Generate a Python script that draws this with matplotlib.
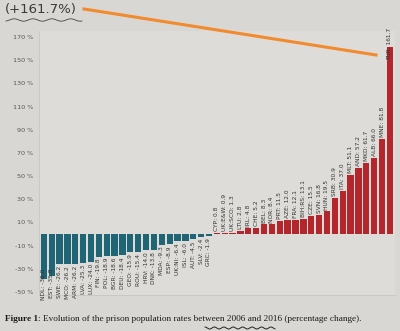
import matplotlib
matplotlib.use("Agg")
import matplotlib.pyplot as plt
import numpy as np

codes = ["NDL", "EST", "SWE", "MCO", "ARM", "LVA", "LUX", "FIN", "POL", "BGR", "DEU",
         "GEO", "ROU", "HRV", "DNK", "MDA", "ESP", "UK:NI", "ISL", "AUT", "SLV", "GRC",
         "CYP", "UK:E&W", "UK:SCO", "LTU", "IRL", "CHE", "BEL", "NOR", "PRT", "AZE", "FRA",
         "BIH:RS", "CZE", "SVN", "HUN", "SRB", "ITA", "MLT", "AND", "MKD", "ALB", "MNE", "TUR"]
values = [-39.0, -35.8, -26.2, -26.2, -26.2, -25.3, -24.0, -19.8, -18.9, -18.6, -18.4,
          -15.9, -15.4, -14.0, -13.8, -9.3, -8.9, -6.4, -6.0, -4.5, -2.4, -1.9,
          0.8, 0.9, 1.3, 2.8, 4.8, 5.2, 8.3, 8.4, 11.5, 12.0, 12.1,
          13.1, 15.5, 16.8, 19.5, 30.9, 37.0, 51.1, 57.2, 61.7, 66.0, 81.8, 161.7]
yticks = [170, 150, 130, 110, 90, 70, 50, 30, 10, -10, -30, -50]

W, H = 400, 331
fig = plt.figure(figsize=(W / 100, H / 100), dpi=100)
fig.patch.set_facecolor("#d9d7d3")

k = (292 - 37) / 220.0
top_px = 37 - 5 * k
bot_px = 292 + 3 * k
ax = fig.add_axes([39.1 / W, 1 - bot_px / H, 355.5 / W, (bot_px - top_px) / H])
ax.set_facecolor("#dedcd8")
x = np.arange(len(values))
colors = ["#1f6575" if v < 0 else "#b3272c" for v in values]
ax.bar(x, values, width=0.8, color=colors, zorder=2)
ax.set_xlim(-0.6, len(values) - 0.4)
ax.set_ylim(-53, 175)
ax.set_yticks(yticks)
ax.set_yticklabels([f"{t} %" for t in yticks], fontsize=4.6, color="#555555")
ax.tick_params(axis="y", length=0, pad=4)
ax.set_xticks([])
for s in ["top", "right"]:
    ax.spines[s].set_visible(False)
for s in ["left", "bottom"]:
    ax.spines[s].set_color("#c8c6c2")
    ax.spines[s].set_linewidth(0.6)

for xi, (c, v) in enumerate(zip(codes, values)):
    lab = f"{c}: {v:.1f}"
    if v >= 0:
        ax.text(xi, min(v + 1.5, 150), lab, rotation=90, ha="center", va="bottom",
                fontsize=4.2, color="#333333", zorder=3)
    else:
        ax.text(xi, max(v, -28) - 1.5, lab, rotation=90, ha="center", va="top",
                fontsize=4.2, color="#333333", zorder=3)

# handwritten annotation and orange line
fig.text(5 / W, 1 - 9 / H, "(+161.7%)", fontsize=9.5, color="#3a3a3a",
         ha="left", va="center", family="DejaVu Sans")
fig.add_artist(plt.Line2D([84 / W, 376 / W], [1 - 9 / H, 1 - 55 / H],
                          color="#f28a2e", linewidth=2.2, transform=fig.transFigure))
xs = np.linspace(6, 82, 60)
fig.add_artist(plt.Line2D(xs / W, 1 - (20 + 1.2 * np.sin(xs / 3)) / H,
                          color="#444444", linewidth=0.6, transform=fig.transFigure))

# caption
t1 = fig.text(5 / W, 1 - 319 / H, "Figure 1", fontsize=6.7, fontweight="bold",
              family="Liberation Serif", color="#1a1a1a", ha="left", va="center")
fig.canvas.draw()
bb = t1.get_window_extent(renderer=fig.canvas.get_renderer())
fig.text(bb.x1 / W, 1 - 319 / H,
         ": Evolution of the prison population rates between 2006 and 2016 (percentage change).",
         fontsize=6.7, family="Liberation Serif", color="#1a1a1a", ha="left", va="center")
xs = np.linspace(205, 275, 90)
fig.add_artist(plt.Line2D(xs / W, 1 - (328 + 1.0 * np.sin(xs / 1.5)) / H,
                          color="#222222", linewidth=0.7, transform=fig.transFigure))

fig.savefig("out.png", dpi=100, facecolor=fig.get_facecolor())
